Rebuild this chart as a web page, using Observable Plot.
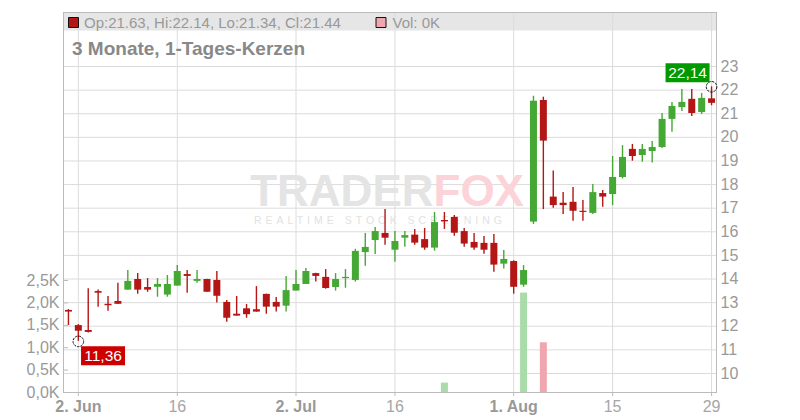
<!DOCTYPE html>
<html><head><meta charset="utf-8">
<script src="https://cdn.jsdelivr.net/npm/d3@7"></script>
<script src="https://cdn.jsdelivr.net/npm/@observablehq/plot@0.6"></script>
<style>
html,body{margin:0;padding:0;background:#fff;}
#chart{width:800px;height:420px;position:relative;}
</style></head><body><div id="chart"></div>
<script>
const dates = [
"2025-05-30",
"2025-06-02","2025-06-03","2025-06-04","2025-06-05","2025-06-06",
"2025-06-09","2025-06-10","2025-06-11","2025-06-12","2025-06-13",
"2025-06-16","2025-06-17","2025-06-18","2025-06-19","2025-06-20",
"2025-06-23","2025-06-24","2025-06-25","2025-06-26","2025-06-27",
"2025-06-30","2025-07-01","2025-07-02","2025-07-03","2025-07-04",
"2025-07-07","2025-07-08","2025-07-09","2025-07-10","2025-07-11",
"2025-07-14","2025-07-15","2025-07-16","2025-07-17","2025-07-18",
"2025-07-21","2025-07-22","2025-07-23","2025-07-24","2025-07-25",
"2025-07-28","2025-07-29","2025-07-30","2025-07-31","2025-08-01",
"2025-08-04","2025-08-05","2025-08-06","2025-08-07","2025-08-08",
"2025-08-11","2025-08-12","2025-08-13","2025-08-14","2025-08-15",
"2025-08-18","2025-08-19","2025-08-20","2025-08-21","2025-08-22",
"2025-08-25","2025-08-26","2025-08-27","2025-08-28","2025-08-29"];

const open = [
12.67, 12.03, 11.82, 13.47, 12.93, 13.05, 13.53, 13.98, 13.64, 13.65,
13.32, 13.70, 14.19, 13.90, 13.98, 13.94, 13.01, 12.51, 12.74, 12.70,
13.35, 13.01, 12.85, 13.49, 13.77, 14.23, 14.07, 13.64, 14.02, 13.94,
15.12, 15.63, 15.93, 15.22, 15.73, 15.86, 15.67, 15.31, 16.48, 16.61,
16.01, 15.55, 15.51, 15.51, 14.63, 14.74, 13.74, 16.41, 21.56, 17.47,
17.21, 17.25, 16.87, 16.78, 17.62, 17.58, 18.30, 19.49, 19.23, 19.40,
19.57, 20.76, 21.26, 21.61, 21.05, 21.63];
const high = [
12.71, 12.07, 13.59, 13.54, 13.26, 13.82, 14.36, 14.23, 14.02, 14.02,
14.15, 14.57, 14.36, 14.36, 13.99, 14.32, 13.09, 13.26, 12.92, 13.68,
13.36, 13.22, 14.11, 14.36, 14.45, 14.24, 14.40, 14.23, 14.40, 15.26,
15.93, 16.18, 16.94, 16.01, 16.01, 16.10, 16.14, 16.82, 16.82, 16.69,
16.14, 15.93, 15.80, 15.89, 15.21, 14.77, 14.57, 21.74, 21.70, 18.57,
17.66, 17.88, 17.33, 18.00, 17.75, 19.19, 19.65, 19.70, 19.70, 19.82,
21.01, 21.48, 22.03, 22.03, 21.86, 22.14];
const low = [
12.03, 11.36, 11.71, 12.81, 12.64, 12.93, 13.53, 13.36, 13.44, 13.23,
13.23, 13.70, 13.40, 13.82, 13.44, 12.98, 12.17, 12.43, 12.34, 12.60,
12.51, 12.60, 12.60, 13.49, 13.77, 13.87, 13.57, 13.49, 13.61, 13.87,
14.54, 15.04, 15.43, 14.71, 15.35, 15.43, 15.22, 15.18, 16.10, 15.81,
15.35, 15.22, 15.05, 14.29, 14.42, 13.36, 13.65, 16.31, 16.94, 17.00,
16.73, 16.45, 16.45, 16.73, 17.04, 17.11, 18.24, 18.99, 18.95, 18.91,
19.53, 20.22, 21.09, 20.88, 20.97, 21.34];
const close = [
12.60, 11.79, 11.74, 13.40, 12.87, 12.93, 13.90, 13.53, 13.53, 13.77,
13.77, 14.32, 14.11, 13.98, 13.44, 13.27, 12.34, 12.43, 12.49, 12.60,
12.81, 12.81, 13.51, 13.77, 14.32, 14.11, 13.60, 13.98, 14.07, 15.17,
15.34, 16.01, 15.73, 15.59, 15.84, 15.52, 15.31, 16.39, 16.42, 15.94,
15.48, 15.31, 15.22, 14.59, 14.83, 13.65, 14.36, 21.53, 19.84, 17.11,
17.11, 16.87, 16.82, 17.66, 17.47, 18.30, 19.15, 19.19, 19.49, 19.57,
20.76, 21.31, 21.48, 21.01, 21.65, 21.44];
const volume = [
0, 0, 0, 0, 0, 0, 0, 0, 0, 0,
0, 0, 0, 0, 0, 0, 0, 0, 0, 0,
0, 0, 0, 0, 0, 0, 0, 0, 0, 0,
0, 0, 0, 0, 0, 0, 0, 0, 210, 0,
0, 0, 0, 0, 0, 0, 2220, 0, 1110, 0,
0, 0, 0, 0, 0, 0, 0, 0, 0, 0,
0, 0, 0, 0, 0, 0];

const priceTicks = [10, 11, 12, 13, 14, 15, 16, 17, 18, 19, 20, 21, 22, 23];
const volTicks = [0, 500, 1000, 1500, 2000, 2500];
const volTickLabels = ["0,0K", "0,5K", "1,0K", "1,5K", "2,0K", "2,5K"];
const xTickDates = ["2025-06-02", "2025-06-16", "2025-07-02", "2025-07-16", "2025-08-01", "2025-08-15", "2025-08-29"];
const xTickLabels = ["2. Jun", "16", "2. Jul", "16", "1. Aug", "15", "29"];
const xTickBold = [true, false, true, false, true, false, false];
const subtitle = "3 Monate, 1-Tages-Kerzen";

// layout / styling
const W = 800, H = 420, mT = 12, mB = 28, mL = 63, mR = 84;
const yDomain = [9.195, 25.287];
const priceUnitsPerK = 1.897; // volume axis: 1K shares in price units
const GREEN = "#46a834", RED = "#b41616";
const VGREEN = "#aadcaa", VRED = "#f0a6ae";
const FONT = "'Liberation Sans', Arial, Helvetica, sans-serif";

const rows = dates.map((d, i) => ({
  date: d, open: open[i], high: high[i], low: low[i], close: close[i], volume: volume[i],
  up: close[i] >= open[i],
  volUp: i === 0 ? true : close[i] >= close[i - 1]
}));
const volToY = v => yDomain[0] + (v / 1000) * priceUnitsPerK;

const last = rows[rows.length - 1];
const fmt2 = v => v.toFixed(2);
const legendText = `Op:${fmt2(last.open)}, Hi:${fmt2(last.high)}, Lo:${fmt2(last.low)}, Cl:${fmt2(last.close)}`;
const volText = `Vol: ${Math.round(last.volume / 1000)}K`;

const minRow = rows.reduce((a, b) => (b.low < a.low ? b : a));
const maxRow = rows.reduce((a, b) => (b.high > a.high ? b : a));
const comma = v => v.toFixed(2).replace(".", ",");

const rectSym = (x0, y0, w, h) => ({
  draw(ctx) { ctx.moveTo(x0, y0); ctx.lineTo(x0 + w, y0); ctx.lineTo(x0 + w, y0 + h); ctx.lineTo(x0, y0 + h); ctx.closePath(); }
});

const boldDates = xTickDates.filter((d, i) => xTickBold[i]);
const plainDates = xTickDates.filter((d, i) => !xTickBold[i]);
const xLabel = d => xTickLabels[xTickDates.indexOf(d)];

const plot = Plot.plot({
  width: W, height: H,
  marginTop: mT, marginBottom: mB, marginLeft: mL, marginRight: mR,
  style: {fontFamily: FONT, fontSize: "16px", color: "#999", background: "transparent", overflow: "visible"},
  x: {type: "point", domain: dates, padding: 0.5},
  y: {domain: yDomain},
  marks: [
    // header band
    Plot.dot([0], {frameAnchor: "top-left", symbol: rectSym(0, 0, W - mL - mR, 18), r: 1, fill: "#e6e6e6", stroke: null}),
    Plot.gridY(priceTicks, {stroke: "#dcdcdc", strokeOpacity: 1}),
    Plot.gridX(xTickDates, {stroke: "#dcdcdc", strokeOpacity: 1}),
    // watermark
    Plot.text(["TRADER"], {frameAnchor: "middle", text: d => d, textAnchor: "end", lineAnchor: "bottom", dx: 43.5, dy: 3, fontSize: 44, fontWeight: "bold", fill: "#e4e4e4"}),
    Plot.text(["FOX"], {frameAnchor: "middle", text: d => d, textAnchor: "start", lineAnchor: "bottom", dx: 43.5, dy: 3, fontSize: 44, fontWeight: "bold", fill: "#fbd3d8"}),
    Plot.text(["REALTIME STOCK SCREENING"], {frameAnchor: "middle", text: d => d, textAnchor: "middle", lineAnchor: "bottom", dx: -10, dy: 21.5, fontSize: 10.5, fill: "#e2e2e2"}),
    Plot.frame({stroke: "#bbb"}),
    // volume
    Plot.ruleX(rows.filter(r => r.volume > 0), {x: "date", y1: yDomain[0], y2: r => volToY(r.volume), stroke: r => r.volUp ? VGREEN : VRED, strokeWidth: 7}),
    // candles
    Plot.ruleX(rows, {x: "date", y1: "low", y2: "high", stroke: r => r.up ? GREEN : RED, strokeWidth: 1.4}),
    Plot.ruleX(rows, {x: "date", y1: "open", y2: "close", stroke: r => r.up ? GREEN : RED, strokeWidth: 7}),
    // axes
    Plot.axisY(priceTicks, {anchor: "right", tickSize: 0, tickPadding: 4, label: null, fill: "#999"}),
    Plot.axisY(volTicks.map(volToY), {anchor: "left", tickSize: -5, tickPadding: 9, label: null, tickFormat: (d, i) => volTickLabels[i], fill: "#999", stroke: "#bbb"}),
    Plot.axisX(boldDates, {tickSize: 4, tickPadding: 4, label: null, tickFormat: xLabel, fontWeight: "bold", fill: "#999", stroke: "#bbb"}),
    Plot.axisX(plainDates, {tickSize: 4, tickPadding: 4, label: null, tickFormat: xLabel, fill: "#a6a6a6", stroke: "#bbb"}),
    // annotations
    Plot.dot([minRow], {x: "date", y: "low", r: 5.3, fill: "none", stroke: "#111", strokeWidth: 1, strokeDasharray: "2.5,1"}),
    Plot.dot([minRow], {x: "date", y: "low", symbol: rectSym(-22, -9.5, 44, 19), r: 1, fill: "#cc0000", stroke: null, dx: 24.7, dy: 14.3}),
    Plot.text([minRow], {x: "date", y: "low", text: r => comma(r.low), dx: 24.7, dy: 14.8, fill: "white", fontSize: 15.5}),
    Plot.dot([maxRow], {x: "date", y: "high", r: 5.3, fill: "none", stroke: "#111", strokeWidth: 1, strokeDasharray: "2.5,1"}),
    Plot.dot([maxRow], {x: "date", y: "high", symbol: rectSym(-22, -9.5, 44, 19), r: 1, fill: "#009a00", stroke: null, dx: -24, dy: -14.1}),
    Plot.text([maxRow], {x: "date", y: "high", text: r => comma(r.high), dx: -24, dy: -13.6, fill: "white", fontSize: 15.5}),
    // legend in header
    Plot.dot([0], {frameAnchor: "top-left", symbol: rectSym(5, 5, 10, 10), r: 1, fill: RED, stroke: "#111", strokeWidth: 1}),
    Plot.text([legendText], {frameAnchor: "top-left", text: d => d, textAnchor: "start", lineAnchor: "bottom", dx: 20.5, dy: 15.5, fontSize: 15, fill: "#999"}),
    Plot.dot([0], {frameAnchor: "top-left", symbol: rectSym(312.5, 5, 10, 10), r: 1, fill: VRED, stroke: "#111", strokeWidth: 1}),
    Plot.text([volText], {frameAnchor: "top-left", text: d => d, textAnchor: "start", lineAnchor: "bottom", dx: 329, dy: 15.5, fontSize: 15, fill: "#999"}),
    // subtitle
    Plot.text([subtitle], {frameAnchor: "top-left", text: d => d, textAnchor: "start", lineAnchor: "bottom", dx: 8.5, dy: 42, fontSize: 19, fontWeight: "bold", fill: "#888"})
  ]
});
d3.select(plot).selectAll("text").filter(function () { return this.textContent === "REALTIME STOCK SCREENING"; }).style("letter-spacing", "4px");
document.getElementById("chart").appendChild(plot);
</script>
</body></html>
